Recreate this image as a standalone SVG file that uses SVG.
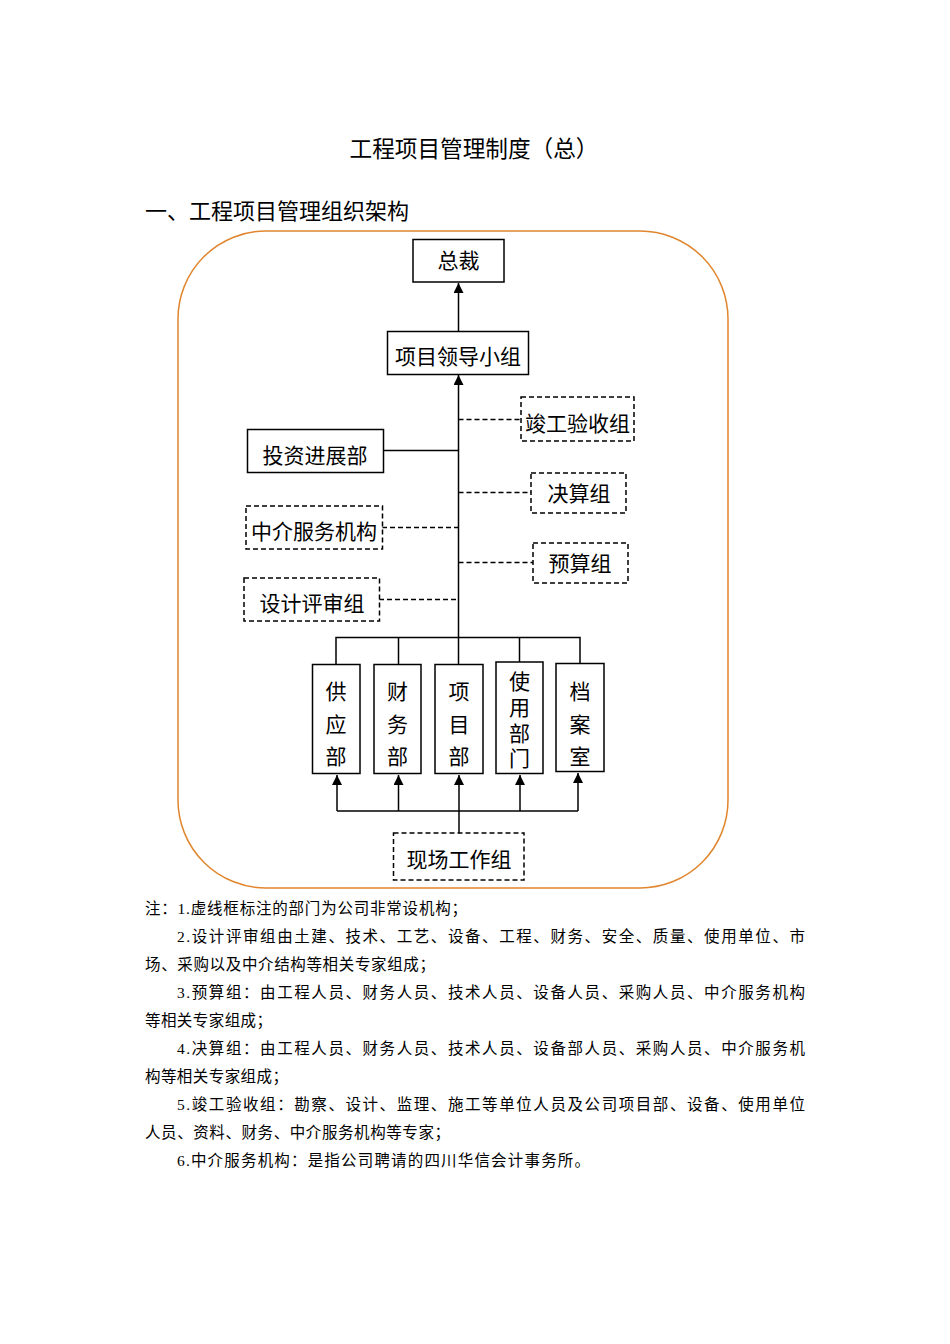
<svg xmlns="http://www.w3.org/2000/svg" width="950" height="1344" viewBox="0 0 950 1344">
<style>
  text { font-family: "Liberation Serif", "Noto Sans CJK SC", serif; fill: #000; }
  .title { font-size: 23px; text-anchor: middle; font-family: "Liberation Sans", "Noto Sans CJK SC", sans-serif; }
  .head { font-size: 22px; font-family: "Liberation Sans", "Noto Sans CJK SC", sans-serif; }
  .lbl { font-size: 21px; text-anchor: middle; dominant-baseline: central; }
  .box { fill: #fff; stroke: #000; stroke-width: 1.5; }
  .dbox { fill: #fff; stroke: #000; stroke-width: 1.5; stroke-dasharray: 5 3; }
  .ln { fill: none; stroke: #000; stroke-width: 1.5; }
  .dln { fill: none; stroke: #000; stroke-width: 1.3; stroke-dasharray: 5 3; }
  .note { font-size: 15.5px; }
</style>
<defs>
  <marker id="arr" viewBox="0 0 10 10" refX="10" refY="5" markerWidth="10" markerHeight="10" markerUnits="userSpaceOnUse" orient="auto">
    <path d="M0,0 L10,5 L0,10 Z" fill="#000"/>
  </marker>
</defs>
<rect width="950" height="1344" fill="#fff"/>
<text class="title" x="474" y="157" textLength="249" lengthAdjust="spacingAndGlyphs">工程项目管理制度（总）</text>
<text class="head" x="145" y="219">一、工程项目管理组织架构</text>
<rect id="frame" x="178" y="231" width="550" height="657" rx="88" ry="88" fill="none" stroke="#E0862E" stroke-width="1.5"/>

<g id="connectors">
  <line class="ln" x1="458.5" y1="331" x2="458.5" y2="283" marker-end="url(#arr)"/>
  <line class="ln" x1="458.5" y1="637" x2="458.5" y2="375" marker-end="url(#arr)"/>
  <line class="ln" x1="383" y1="450.5" x2="458.5" y2="450.5"/>
  <line class="dln" x1="458.5" y1="419.5" x2="521" y2="419.5"/>
  <line class="dln" x1="458.5" y1="492.5" x2="531" y2="492.5"/>
  <line class="dln" x1="458.5" y1="562.5" x2="533" y2="562.5"/>
  <line class="dln" x1="382" y1="527.5" x2="458.5" y2="527.5"/>
  <line class="dln" x1="379" y1="599.5" x2="458.5" y2="599.5"/>
  <polyline class="ln" points="336,664 336,637.5 580,637.5 580,663"/>
  <line class="ln" x1="398.5" y1="637.5" x2="398.5" y2="664"/>
  <line class="ln" x1="519.5" y1="637.5" x2="519.5" y2="662"/>
  <line class="ln" x1="458.5" y1="637.5" x2="458.5" y2="664"/>
  <line class="ln" x1="459" y1="833" x2="459" y2="811"/>
  <line class="ln" x1="337" y1="811" x2="578" y2="811"/>
  <line class="ln" x1="337" y1="811" x2="337" y2="775" marker-end="url(#arr)"/>
  <line class="ln" x1="398.5" y1="811" x2="398.5" y2="775" marker-end="url(#arr)"/>
  <line class="ln" x1="459" y1="811" x2="459" y2="775" marker-end="url(#arr)"/>
  <line class="ln" x1="520" y1="811" x2="520" y2="775" marker-end="url(#arr)"/>
  <line class="ln" x1="578" y1="811" x2="578" y2="773" marker-end="url(#arr)"/>
</g>

<g id="n-zongcai"><rect class="box" x="413" y="239.5" width="91" height="42.5"/><text class="lbl" x="458.5" y="261">总裁</text></g>
<g id="n-lingdao"><rect class="box" x="387.5" y="331.5" width="141" height="43"/><text class="lbl" x="458" y="357">项目领导小组</text></g>
<g id="n-jungong"><rect class="dbox" x="521" y="397" width="113" height="44"/><text class="lbl" x="577.5" y="424">竣工验收组</text></g>
<g id="n-touzi"><rect class="box" x="247.5" y="429.5" width="136" height="43"/><text class="lbl" x="315" y="456">投资进展部</text></g>
<g id="n-juesuan"><rect class="dbox" x="531" y="473" width="95" height="40"/><text class="lbl" x="579" y="494">决算组</text></g>
<g id="n-zhongjie"><rect class="dbox" x="246" y="506" width="136.5" height="43"/><text class="lbl" x="314" y="532">中介服务机构</text></g>
<g id="n-yusuan"><rect class="dbox" x="533" y="543" width="95" height="40"/><text class="lbl" x="580" y="564">预算组</text></g>
<g id="n-sheji"><rect class="dbox" x="244" y="578" width="135.5" height="43"/><text class="lbl" x="312" y="604">设计评审组</text></g>

<g id="n-gongying"><rect class="box" x="312.5" y="664.5" width="47.5" height="109"/>
  <text class="lbl" x="336" y="692">供</text><text class="lbl" x="336" y="725">应</text><text class="lbl" x="336" y="757">部</text></g>
<g id="n-caiwu"><rect class="box" x="374" y="664.5" width="47" height="109"/>
  <text class="lbl" x="397.5" y="692">财</text><text class="lbl" x="397.5" y="725">务</text><text class="lbl" x="397.5" y="757">部</text></g>
<g id="n-xiangmu"><rect class="box" x="435" y="664.5" width="48" height="109"/>
  <text class="lbl" x="459" y="692">项</text><text class="lbl" x="459" y="725">目</text><text class="lbl" x="459" y="757">部</text></g>
<g id="n-shiyong"><rect class="box" x="496" y="662" width="47" height="111.5"/>
  <text class="lbl" x="519.5" y="682">使</text><text class="lbl" x="519.5" y="708">用</text><text class="lbl" x="519.5" y="734">部</text><text class="lbl" x="519.5" y="759">门</text></g>
<g id="n-dangan"><rect class="box" x="556" y="663.5" width="48" height="108"/>
  <text class="lbl" x="580" y="692">档</text><text class="lbl" x="580" y="725">案</text><text class="lbl" x="580" y="757">室</text></g>
<g id="n-xianchang"><rect class="dbox" x="393.5" y="833" width="130.5" height="47"/><text class="lbl" x="459" y="860">现场工作组</text></g>

<g id="notes">
  <text class="note" x="145" y="914" textLength="322" lengthAdjust="spacing">注：1.虚线框标注的部门为公司非常设机构；</text>
  <text class="note" x="177" y="942" textLength="628" lengthAdjust="spacing">2.设计评审组由土建、技术、工艺、设备、工程、财务、安全、质量、使用单位、市</text>
  <text class="note" x="145" y="970" textLength="290" lengthAdjust="spacing">场、采购以及中介结构等相关专家组成；</text>
  <text class="note" x="177" y="998" textLength="628" lengthAdjust="spacing">3.预算组：由工程人员、财务人员、技术人员、设备人员、采购人员、中介服务机构</text>
  <text class="note" x="145" y="1026" textLength="127" lengthAdjust="spacing">等相关专家组成；</text>
  <text class="note" x="177" y="1054" textLength="628" lengthAdjust="spacing">4.决算组：由工程人员、财务人员、技术人员、设备部人员、采购人员、中介服务机</text>
  <text class="note" x="145" y="1082" textLength="143" lengthAdjust="spacing">构等相关专家组成；</text>
  <text class="note" x="177" y="1110" textLength="628" lengthAdjust="spacing">5.竣工验收组：勘察、设计、监理、施工等单位人员及公司项目部、设备、使用单位</text>
  <text class="note" x="145" y="1138" textLength="305" lengthAdjust="spacing">人员、资料、财务、中介服务机构等专家；</text>
  <text class="note" x="177" y="1166" textLength="413" lengthAdjust="spacing">6.中介服务机构：是指公司聘请的四川华信会计事务所。</text>
</g>
</svg>
